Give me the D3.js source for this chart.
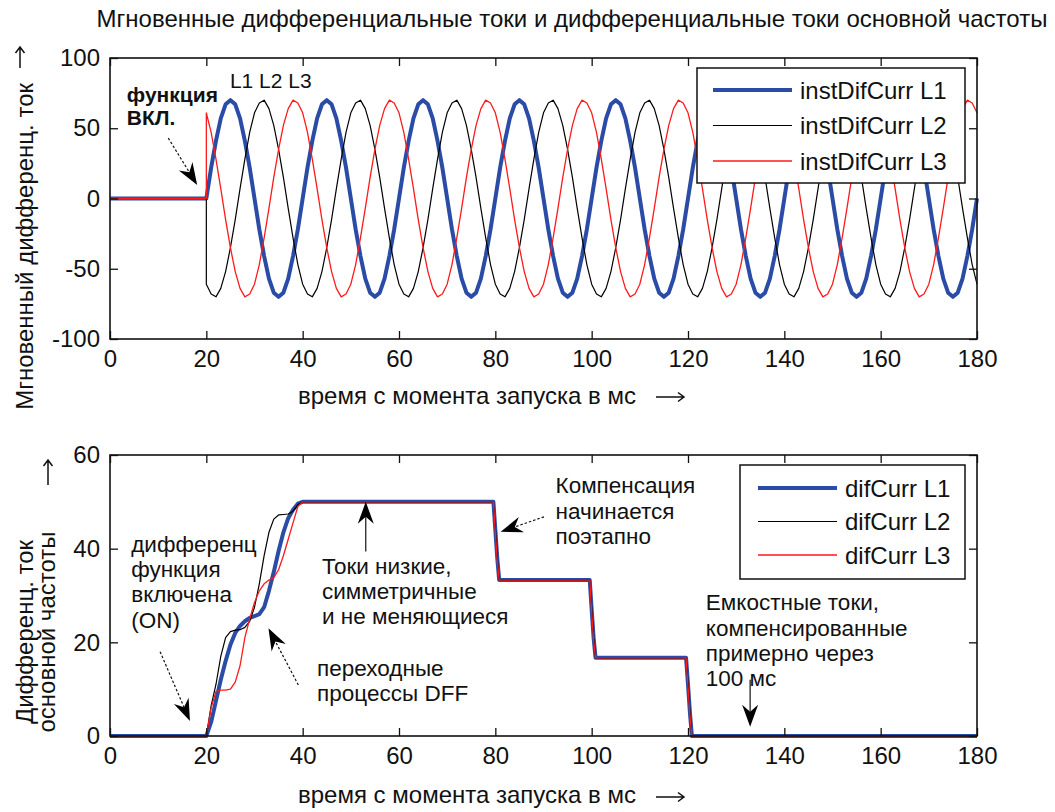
<!DOCTYPE html>
<html>
<head>
<meta charset="utf-8">
<script src="https://cdn.jsdelivr.net/npm/d3@7"></script>
<style>
  body { margin: 0; background: #fff; }
  svg text { font-family: "Liberation Sans", Arial, sans-serif; fill: #111; }
</style>
</head>
<body>
<svg id="chart" width="1055" height="812"></svg>
<script>
// ---------- data ----------
// Instantaneous differential currents, sampled every 1 ms after switch-on at 20 ms
const instSampleStart = 20;   // ms
const instSampleStep = 1;     // ms
const instPreTime = [0, 20];  // flat line before the function is switched on
const instPreValue = [0, 0];

const instL1 = [
  0, 22, 41, 57, 67, 70, 67, 57, 41, 22, 0, -22, -41, -57, -67, -70, -67, -57, -41, -22,
  0, 22, 41, 57, 67, 70, 67, 57, 41, 22, 0, -22, -41, -57, -67, -70, -67, -57, -41, -22,
  0, 22, 41, 57, 67, 70, 67, 57, 41, 22, 0, -22, -41, -57, -67, -70, -67, -57, -41, -22,
  0, 22, 41, 57, 67, 70, 67, 57, 41, 22, 0, -22, -41, -57, -67, -70, -67, -57, -41, -22,
  0, 22, 41, 57, 67, 70, 67, 57, 41, 22, 0, -22, -41, -57, -67, -70, -67, -57, -41, -22,
  0, 22, 41, 57, 67, 70, 67, 57, 41, 22, 0, -22, -41, -57, -67, -70, -67, -57, -41, -22,
  0, 22, 41, 57, 67, 70, 67, 57, 41, 22, 0, -22, -41, -57, -67, -70, -67, -57, -41, -22,
  0, 22, 41, 57, 67, 70, 67, 57, 41, 22, 0, -22, -41, -57, -67, -70, -67, -57, -41, -22,
  0
];
const instL2 = [
  -61, -68, -70, -64, -52, -35, -15, 7, 28, 47, 61, 68, 70, 64, 52, 35, 15, -7, -28, -47,
  -61, -68, -70, -64, -52, -35, -15, 7, 28, 47, 61, 68, 70, 64, 52, 35, 15, -7, -28, -47,
  -61, -68, -70, -64, -52, -35, -15, 7, 28, 47, 61, 68, 70, 64, 52, 35, 15, -7, -28, -47,
  -61, -68, -70, -64, -52, -35, -15, 7, 28, 47, 61, 68, 70, 64, 52, 35, 15, -7, -28, -47,
  -61, -68, -70, -64, -52, -35, -15, 7, 28, 47, 61, 68, 70, 64, 52, 35, 15, -7, -28, -47,
  -61, -68, -70, -64, -52, -35, -15, 7, 28, 47, 61, 68, 70, 64, 52, 35, 15, -7, -28, -47,
  -61, -68, -70, -64, -52, -35, -15, 7, 28, 47, 61, 68, 70, 64, 52, 35, 15, -7, -28, -47,
  -61, -68, -70, -64, -52, -35, -15, 7, 28, 47, 61, 68, 70, 64, 52, 35, 15, -7, -28, -47,
  -61
];
const instL3 = [
  61, 47, 28, 7, -15, -35, -52, -64, -70, -68, -61, -47, -28, -7, 15, 35, 52, 64, 70, 68,
  61, 47, 28, 7, -15, -35, -52, -64, -70, -68, -61, -47, -28, -7, 15, 35, 52, 64, 70, 68,
  61, 47, 28, 7, -15, -35, -52, -64, -70, -68, -61, -47, -28, -7, 15, 35, 52, 64, 70, 68,
  61, 47, 28, 7, -15, -35, -52, -64, -70, -68, -61, -47, -28, -7, 15, 35, 52, 64, 70, 68,
  61, 47, 28, 7, -15, -35, -52, -64, -70, -68, -61, -47, -28, -7, 15, 35, 52, 64, 70, 68,
  61, 47, 28, 7, -15, -35, -52, -64, -70, -68, -61, -47, -28, -7, 15, 35, 52, 64, 70, 68,
  61, 47, 28, 7, -15, -35, -52, -64, -70, -68, -61, -47, -28, -7, 15, 35, 52, 64, 70, 68,
  61, 47, 28, 7, -15, -35, -52, -64, -70, -68, -61, -47, -28, -7, 15, 35, 52, 64, 70, 68,
  61
];

// Fundamental-frequency differential currents (DFF output), breakpoints in ms
const dffTime = [
  0,
  20, 21, 22, 23, 24, 25, 26, 27, 28, 29, 30, 31, 32, 33, 34, 35, 36, 37, 38, 39, 40,
  79.6, 80.0, 80.4, 80.8,
  99.6, 100.0, 100.4, 100.8,
  119.6, 120.0, 120.4, 120.8,
  180
];
const dffL1 = [
  0,
  0, 3, 7.5, 12, 16, 19.5, 22, 23.5, 24.5, 25.2, 25.6, 26, 27.5, 31, 35, 39.5, 43.5, 46.5, 48.3, 49.6, 50,
  50, 44, 38, 33.3,
  33.3, 27, 21, 16.7,
  16.7, 11, 5, 0,
  0
];
const dffL2 = [
  0,
  0, 6.5, 11, 17, 21, 22.3, 22.6, 22.7, 23.2, 24.5, 27.5, 32.5, 38.5, 43.5, 46.3, 47.2, 47.3, 47.4, 48, 49.4, 50,
  50, 44.5, 38.5, 33.3,
  33.3, 27.5, 21.5, 16.7,
  16.7, 11.5, 5.5, 0,
  0
];
const dffL3 = [
  0,
  0, 6, 9.5, 9.8, 9.8, 10, 11.5, 15, 21, 25, 28.5, 31, 32.5, 33.3, 33.8, 35.5, 38.5, 42, 45.5, 49, 50,
  50, 43.5, 37.5, 33.3,
  33.3, 26.5, 20.5, 16.7,
  16.7, 10.5, 4.5, 0,
  0
];

const timeTicks = [0, 20, 40, 60, 80, 100, 120, 140, 160, 180];
const instTicks = [-100, -50, 0, 50, 100];
const dffTicks = [0, 20, 40, 60];

const instNames = ["instDifCurr L1", "instDifCurr L2", "instDifCurr L3"];
const dffNames = ["difCurr L1", "difCurr L2", "difCurr L3"];
const phaseColors = ["#2b4ca6", "#000000", "#ff1a1a"];
const phaseWidths = [4, 1.2, 1.3];

// ---------- drawing ----------
const svg = d3.select("#chart");
const FONT = 24;
const NOTE_FONT = 22.5;

const x = d3.scaleLinear().domain([0, 180]).range([110, 977]);
const yInst = d3.scaleLinear().domain([-100, 100]).range([339, 58]);
const yDff = d3.scaleLinear().domain([0, 60]).range([736, 455]);

const plainNumber = d => String(d);

function drawAxes(g, y, yTickValues) {
  const [y0, y1] = y.range();
  const TICK = 8;
  g.append("g").attr("transform", `translate(0,${y0})`)
    .call(d3.axisBottom(x).tickValues(timeTicks).tickSize(-TICK).tickPadding(11).tickFormat(plainNumber));
  g.append("g").attr("transform", `translate(0,${y1})`)
    .call(d3.axisTop(x).tickValues(timeTicks).tickSize(-TICK).tickFormat(""));
  g.append("g").attr("transform", `translate(${x.range()[0]},0)`)
    .call(d3.axisLeft(y).tickValues(yTickValues).tickSize(-TICK).tickPadding(10).tickFormat(plainNumber));
  g.append("g").attr("transform", `translate(${x.range()[1]},0)`)
    .call(d3.axisRight(y).tickValues(yTickValues).tickSize(-TICK).tickFormat(""));
  g.selectAll(".domain").remove();
  g.selectAll(".tick line").attr("stroke", "#111").attr("stroke-width", 1.3);
  g.selectAll(".tick text").attr("font-size", FONT).attr("font-family", "Liberation Sans, Arial, sans-serif").attr("fill", "#111");
  g.append("rect")
    .attr("x", x.range()[0]).attr("y", y1)
    .attr("width", x.range()[1] - x.range()[0]).attr("height", y0 - y1)
    .attr("fill", "none").attr("stroke", "#111").attr("stroke-width", 1.6);
}

function drawSeries(g, y, times, seriesList) {
  const line = d3.line().x(d => x(d[0])).y(d => y(d[1]));
  seriesList.forEach((vals, i) => {
    g.append("path")
      .datum(times.map((t, k) => [t, vals[k]]))
      .attr("d", line)
      .attr("fill", "none")
      .attr("stroke", phaseColors[i])
      .attr("stroke-width", phaseWidths[i])
      .attr("stroke-linejoin", "round");
  });
}

function drawLegend(g, names, box) {
  g.append("rect").attr("x", box.x).attr("y", box.y).attr("width", box.w).attr("height", box.h)
    .attr("fill", "#fff").attr("stroke", "#111").attr("stroke-width", 1.5);
  names.forEach((n, i) => {
    const cy = box.y + box.row0 + i * box.rowGap;
    g.append("line").attr("x1", box.x + box.l0).attr("x2", box.x + box.l1)
      .attr("y1", cy).attr("y2", cy)
      .attr("stroke", phaseColors[i]).attr("stroke-width", phaseWidths[i]);
    g.append("text").attr("x", box.x + box.tx).attr("y", cy).attr("dy", "0.36em")
      .attr("font-size", FONT).text(n);
  });
}

// multi-line annotation, one text element per line
function drawNote(g, y, t, v, lines, gap, size, weight) {
  lines.forEach((s, i) => {
    g.append("text").attr("x", x(t)).attr("y", y(v) + i * gap)
      .attr("font-size", size || NOTE_FONT)
      .attr("font-weight", weight || null)
      .text(s);
  });
}

function drawArrow(g, y, from, to, dashed) {
  const x1 = x(from[0]), y1 = y(from[1]), x2 = x(to[0]), y2 = y(to[1]);
  const a = Math.atan2(y2 - y1, x2 - x1);
  const L = 22, HW = 8, N = 15;
  const c = Math.cos(a), s = Math.sin(a);
  g.append("line")
    .attr("x1", x1).attr("y1", y1)
    .attr("x2", x2 - N * c).attr("y2", y2 - N * s)
    .attr("stroke", "#111").attr("stroke-width", 1.2)
    .attr("stroke-dasharray", dashed ? "2.5,2" : null);
  const pts = [[0, 0], [-L, -HW], [-N, 0], [-L, HW]]
    .map(([px, py]) => [x2 + px * c - py * s, y2 + px * s + py * c]);
  g.append("path").attr("d", "M" + pts.map(p => p.join(",")).join("L") + "Z").attr("fill", "#000");
}

// thin open arrow next to the axis labels (direction of increasing values)
function axisArrow(x1, y1, x2, y2) {
  const a = Math.atan2(y2 - y1, x2 - x1);
  const c = Math.cos(a), s = Math.sin(a);
  const h = 6, w = 4.5;
  const p1 = [x2 - h * c + w * s, y2 - h * s - w * c];
  const p2 = [x2 - h * c - w * s, y2 - h * s + w * c];
  svg.append("path")
    .attr("d", `M${x1},${y1}L${x2},${y2}M${p1}L${x2},${y2}L${p2}`)
    .attr("fill", "none").attr("stroke", "#111").attr("stroke-width", 1.5);
}

// Title
svg.append("text").attr("x", 572).attr("y", 27).attr("text-anchor", "middle")
  .attr("font-size", FONT)
  .text("Мгновенные дифференциальные токи и дифференциальные токи основной частоты");

// ---- upper panel: instantaneous currents ----
const gTop = svg.append("g");
const instTime = instPreTime.concat(instL1.map((_, i) => instSampleStart + i * instSampleStep));
drawSeries(gTop, yInst, instTime, [
  instPreValue.concat(instL1),
  instPreValue.concat(instL2),
  instPreValue.concat(instL3)
]);
drawAxes(gTop, yInst, instTicks);
drawLegend(gTop, instNames, { x: 697, y: 68, w: 268, h: 115, row0: 22, rowGap: 35.5, l0: 16, l1: 95, tx: 103 });
drawNote(gTop, yInst, 3.5, 69, ["функция", "ВКЛ."], 23.5, 21, "bold");
drawArrow(gTop, yInst, [12.1, 43], [18.1, 9.6], true);
gTop.append("text").attr("x", x(24.9)).attr("y", yInst(78.6)).attr("font-size", 21).text("L1 L2 L3");

svg.append("text").attr("transform", "translate(33,83) rotate(-90)").attr("text-anchor", "end")
  .attr("font-size", FONT).text("Мгновенный дифференц. ток");
axisArrow(20, 68, 20, 47);
svg.append("text").attr("x", 298).attr("y", 404).attr("font-size", FONT)
  .text("время с момента запуска в мс");
axisArrow(656, 397, 684, 397);

// ---- lower panel: fundamental-frequency currents ----
const gBot = svg.append("g");
drawSeries(gBot, yDff, dffTime, [dffL1, dffL2, dffL3]);
drawAxes(gBot, yDff, dffTicks);
drawLegend(gBot, dffNames, { x: 740, y: 465, w: 225, h: 114, row0: 23, rowGap: 33.5, l0: 18, l1: 97, tx: 105 });

drawNote(gBot, yDff, 4.4, 39.3, ["дифференц", "функция", "включена", "(ON)"], 25.2);
drawArrow(gBot, yDff, [10.4, 18], [16.6, 3.2], true);
drawNote(gBot, yDff, 43, 12.8, ["переходные", "процессы DFF"], 25.2);
drawArrow(gBot, yDff, [39.1, 10.9], [32.9, 23], true);
drawNote(gBot, yDff, 44, 34.6, ["Токи низкие,", "симметричные", "и не меняющиеся"], 25.2);
drawArrow(gBot, yDff, [53.1, 39.4], [53.1, 50], false);
drawNote(gBot, yDff, 92.5, 51.8, ["Компенсация", "начинается", "поэтапно"], 25.2);
drawArrow(gBot, yDff, [90.1, 46.8], [81.1, 43.6], true);
drawNote(gBot, yDff, 123.7, 26.8, ["Емкостные токи,", "компенсированные", "примерно через", "100 мс"], 25.2);
drawArrow(gBot, yDff, [132.9, 12], [132.9, 2], false);

svg.append("text").attr("transform", "translate(33,632) rotate(-90)").attr("text-anchor", "middle")
  .attr("font-size", FONT).text("Дифференц. ток");
svg.append("text").attr("transform", "translate(55,632) rotate(-90)").attr("text-anchor", "middle")
  .attr("font-size", FONT).text("основной частоты");
axisArrow(48, 485, 48, 460);
svg.append("text").attr("x", 298).attr("y", 803).attr("font-size", FONT)
  .text("время с момента запуска в мс");
axisArrow(656, 797, 684, 797);
</script>
</body>
</html>
